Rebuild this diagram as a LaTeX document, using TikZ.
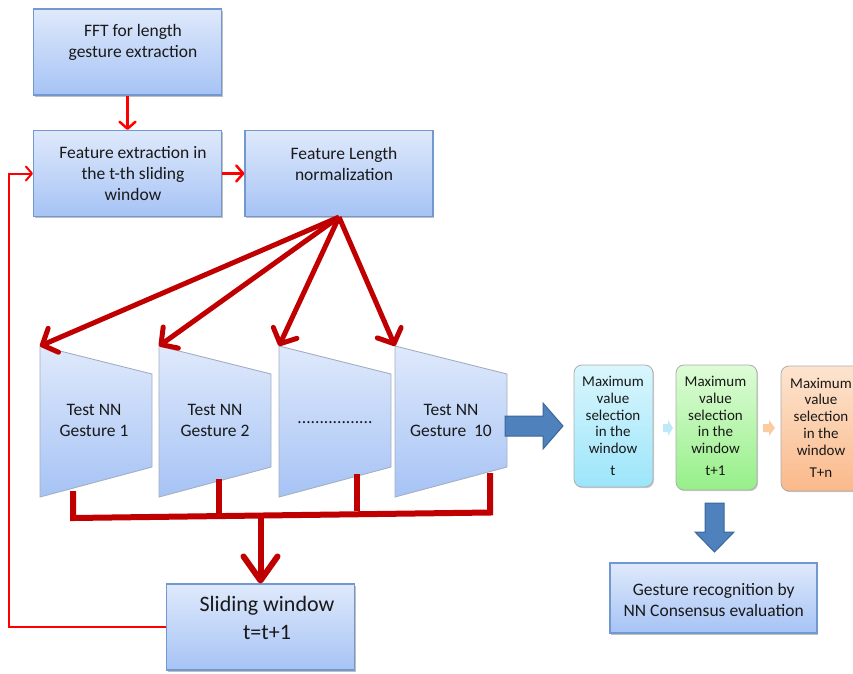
\documentclass[tikz,border=0pt]{standalone}
\usepackage{fontspec}
\setmainfont{Carlito}
\usetikzlibrary{arrows.meta,shadows,calc}
\definecolor{boxtop}{HTML}{DFE9FB}
\definecolor{boxbot}{HTML}{A6C3F5}
\definecolor{boxline}{HTML}{7398CF}
\definecolor{trapline}{HTML}{A3AFC2}
\definecolor{brightred}{HTML}{FF0000}
\definecolor{darkred}{HTML}{C00000}
\definecolor{blockblue}{HTML}{4F81BD}
\definecolor{blockline}{HTML}{3C679A}
\definecolor{cyantop}{HTML}{DAF6FD}
\definecolor{cyanbot}{HTML}{9CE5FA}
\definecolor{greentop}{HTML}{DDFCD6}
\definecolor{greenbot}{HTML}{96EF89}
\definecolor{orangetop}{HTML}{FDE4CF}
\definecolor{orangebot}{HTML}{FAB98A}
\definecolor{chevblue}{HTML}{BFE9F9}
\definecolor{chevorange}{HTML}{FBCBA2}
\newcommand\fbig{\fontsize{17.5}{21}\selectfont}
\newcommand\fhuge{\fontsize{22}{28}\selectfont}
\newcommand\fmid{\fontsize{15}{16.7}\selectfont}
\begin{document}
\begin{tikzpicture}[x=1pt,y=-1pt,
  bluebox/.style={draw=boxline, line width=1.1pt, top color=boxtop, bottom color=boxbot,
    inner sep=0pt, minimum width=188pt, minimum height=86pt,
    drop shadow={opacity=.25, shadow xshift=1.2pt, shadow yshift=-1.5pt, fill=black}},
  rbox/.style={draw=gray!65, line width=.8pt, rounded corners=8pt, inner sep=0pt,
    drop shadow={opacity=.2, shadow xshift=1pt, shadow yshift=-1.2pt, fill=black}},
  trap/.style={draw=trapline, line width=.9pt, top color=boxtop, bottom color=boxbot},
  txt/.style={align=center, inner sep=0pt, font=\fbig, text=black!90},
  mtxt/.style={align=center, inner sep=0pt, font=\fmid, text=black!90},
  thinarrow/.style={draw=brightred, line width=2.5pt, -{Straight Barb[length=7pt,width=16pt,round]}},
  looparrow/.style={draw=brightred, line width=2pt, -{Straight Barb[length=6pt,width=14pt,round]}},
  fan/.style={draw=darkred, line width=5pt, -{Straight Barb[length=12pt,width=26pt,round]}},
  bar/.style={draw=darkred, line width=6pt, line join=miter},
  downarr/.style={draw=darkred, line width=6pt, -{Straight Barb[length=24pt,width=34pt,round]}},
  blockarrow/.style={fill=blockblue, draw=blockline, line width=1pt, line join=miter},
]
\useasboundingbox (0,0) rectangle (853,673);

% top boxes
\node[bluebox] (fft) at (127.5,52) {};
\node[txt] (fftt) at (133,42.5) {FFT for length\\gesture extraction};
\node[bluebox] (fe) at (127.5,173.5) {};
\node[txt] (fet) at (133,174) {Feature extraction in\\the t-th sliding\\window};
\node[bluebox] (fln) at (339,173.5) {};
\node[txt] (flnt) at (344,163.5) {Feature Length\\normalization};

% sliding window & gesture recognition
\node[bluebox] (sw) at (260.5,627) {};
\node[txt, font=\fhuge] (swt) at (267,617.5) {Sliding window\\t=t+1};
\node[bluebox, minimum width=207pt, minimum height=70pt] (gr) at (713.5,598) {};
\node[txt] (grt) at (713.7,599.5) {Gesture recognition by\\NN Consensus evaluation};

% trapezoids
\foreach \i/\x in {1/40,2/159,3/279,4/395}{
  \coordinate (t\i-a) at (\x,346);
  \coordinate (t\i-b) at (\x+112,374);
  \coordinate (t\i-c) at (\x+112,467);
  \coordinate (t\i-d) at (\x,497);
  \shade[trap] (t\i-a) -- (t\i-b) -- (t\i-c) -- (t\i-d) -- cycle;
}
\node[txt] (n1) at (94,420) {Test NN\\Gesture 1};
\node[txt] (n2) at (215,420) {Test NN\\Gesture 2};
\node[txt] (n3) at (335,423) {.................};
\node[txt] (n4) at (451,420) {Test NN\\Gesture~ 10};

% thin red connectors
\draw[thinarrow] (fft.south) -- (fe.north);
\draw[thinarrow] (fe.east) -- (fln.west);
\draw[looparrow] (sw.west) -- ++(-156.5,0) |- (fe.west);

% fan arrows
\draw[fan] (fln.south) -- (t1-a);
\draw[fan] (fln.south) -- (t2-a);
\draw[fan] (fln.south) -- (t3-a);
\draw[fan] (fln.south) -- (t4-a);

% collector bars
\coordinate (s1) at (73,491);
\coordinate (h1) at (73,518);
\coordinate (h4) at (490,512.5);
\coordinate (s4) at (490,473);
\coordinate (s2) at (219,479);
\coordinate (h2) at (219,516.5);
\coordinate (s3) at (357,474);
\coordinate (h3) at (357,511);
\coordinate (hm) at (260.5,516.5);
\draw[bar] (s1) -- (h1) -- (h4) -- (s4);
\draw[bar] (s2) -- (h2);
\draw[bar] (s3) -- (h3);
\draw[downarr] (hm) -- (sw.north);

% max value boxes
\node[rbox, top color=cyantop, bottom color=cyanbot, minimum width=79pt, minimum height=122pt] (m1) at (613.5,426) {};
\node[rbox, top color=greentop, bottom color=greenbot, minimum width=81pt, minimum height=125pt] (m2) at (716.5,427.5) {};
\node[rbox, top color=orangetop, bottom color=orangebot, minimum width=80pt, minimum height=125pt] (m3) at (821,428.5) {};
\node[mtxt] (m1t) at (613,415) {Maximum\\value\\selection\\in the\\window};
\node[mtxt] (m1l) at (613,471) {t};
\node[mtxt] (m2t) at (715.5,415) {Maximum\\value\\selection\\in the\\window};
\node[mtxt] (m2l) at (715.5,471) {t+1};
\node[mtxt] (m3t) at (821,416.5) {Maximum\\value\\selection\\in the\\window};
\node[mtxt] (m3l) at (821,473) {T+n};

% block arrows
\coordinate (ba) at (505,426);
\filldraw[blockarrow] (ba) ++(0,-10) -- ++(38,0) -- ++(0,-13) -- ++(20,23) -- ++(-20,23) -- ++(0,-13) -- ++(-38,0) -- cycle;
\coordinate (da) at (714.5,503);
\filldraw[blockarrow] (da) ++(-9.5,0) -- ++(19,0) -- ++(0,29) -- ++(10,0) -- ++(-19.5,20) -- ++(-19.5,-20) -- ++(10,0) -- cycle;

% small chevrons
\coordinate (c1) at (663,428);
\fill[chevblue] (c1) ++(0,-4) -- ++(5,0) -- ++(0,-4) -- ++(5,8) -- ++(-5,8) -- ++(0,-4) -- ++(-5,0) -- cycle;
\coordinate (c2) at (763,428);
\fill[chevorange] (c2) ++(0,-4) -- ++(6,0) -- ++(0,-4) -- ++(6,8) -- ++(-6,8) -- ++(0,-4) -- ++(-6,0) -- cycle;
\end{tikzpicture}
\end{document}
